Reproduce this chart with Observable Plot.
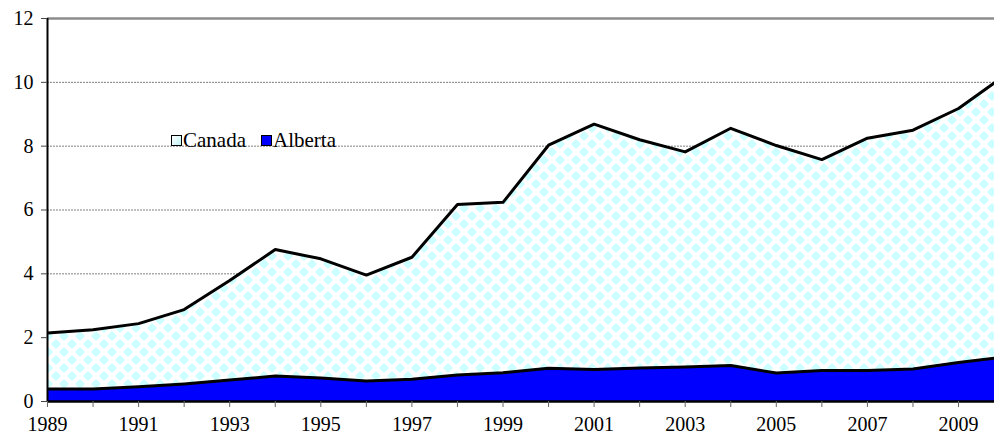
<!DOCTYPE html>
<html>
<head>
<meta charset="utf-8">
<script src="https://cdn.jsdelivr.net/npm/d3@7"></script>
<script src="https://cdn.jsdelivr.net/npm/@observablehq/plot@0.6"></script>
<style>
  html, body { margin: 0; padding: 0; background: #fff; }
  #wrap { position: relative; width: 994px; height: 435px; overflow: hidden; }
  #chart svg, #chart svg text { font-family: 'Liberation Serif', 'Times New Roman', 'DejaVu Serif', serif !important; }
  #legend { position: absolute; left: 171px; top: 127px; font-family: 'Liberation Serif', 'Times New Roman', 'DejaVu Serif', serif; font-size: 21px; line-height: 26px; color: #000; display: flex; align-items: center; white-space: nowrap; }
  .sw { display: inline-block; width: 9px; height: 9px; border: 1.5px solid #000; margin-right: 1px; vertical-align: middle; }
  .item { display: inline-flex; align-items: center; margin-right: 15px; }
</style>
</head>
<body>
<div id="wrap">
  <div id="chart"></div>
  <div id="legend">
    <span class="item"><span class="sw" style="background: linear-gradient(135deg, #ffffff, #bff3f7);"></span>Canada</span>
    <span class="item"><span class="sw" style="background:#0000ff;"></span>Alberta</span>
  </div>
</div>
<script>
const years = [1989,1990,1991,1992,1993,1994,1995,1996,1997,1998,1999,2000,2001,2002,2003,2004,2005,2006,2007,2008,2009,2010];
const canada = [2.15,2.25,2.44,2.88,3.79,4.76,4.47,3.96,4.52,6.17,6.24,8.03,8.69,8.20,7.82,8.56,8.02,7.58,8.25,8.50,9.18,10.2];
const alberta = [0.39,0.39,0.46,0.55,0.67,0.80,0.74,0.64,0.70,0.83,0.90,1.04,1.00,1.05,1.08,1.13,0.89,0.97,0.97,1.02,1.22,1.39];
const yTicks = [0,2,4,6,8,10,12];
const gridTicks = [2,4,6,8,10];
const xTickYears = d3.range(1989, 2010);

const data = years.map((y, i) => ({year: y, canada: canada[i], alberta: alberta[i]}));

const svg = Plot.plot({
  width: 994,
  height: 435,
  marginLeft: 47,
  marginRight: 0,
  marginTop: 18,
  marginBottom: 34,
  style: {fontFamily: "'Liberation Serif', 'Times New Roman', serif", fontSize: "20px", color: "#000", background: "#fff"},
  x: {domain: [1989, 2009.79], label: null},
  y: {domain: [0, 12], label: null},
  marks: [
    Plot.ruleY(gridTicks, {stroke: "#808080", strokeWidth: 1, strokeDasharray: "2,1"}),
    Plot.ruleY([12], {stroke: "#8c8c8c", strokeWidth: 2.5}),
    Plot.areaY(data, {x: "year", y: "canada", fill: "url(#diamonds)", clip: true}),
    Plot.lineY(data, {x: "year", y: "canada", stroke: "#000", strokeWidth: 3, clip: true}),
    Plot.areaY(data, {x: "year", y: "alberta", fill: "#0000ff", clip: true}),
    Plot.lineY(data, {x: "year", y: "alberta", stroke: "#000", strokeWidth: 3, clip: true}),
    Plot.ruleX([1989], {stroke: "#000", strokeWidth: 2}),
    Plot.ruleY([0], {stroke: "#000", strokeWidth: 2.5}),
    Plot.axisY({ticks: yTicks, tickSize: 6, tickPadding: 8, stroke: "#444", fill: "#000", label: null}),
    Plot.axisX({ticks: xTickYears, tickFormat: d => (d % 2 === 1 ? String(d) : ""), tickSize: 6, tickPadding: 9, stroke: "#666", fill: "#000", label: null})
  ]
});

const sel = d3.select(svg);
const defs = sel.insert("defs", ":first-child");
const pat = defs.append("pattern")
  .attr("id", "diamonds")
  .attr("patternUnits", "userSpaceOnUse")
  .attr("width", 16).attr("height", 16);
pat.append("rect").attr("width", 16).attr("height", 16).attr("fill", "#ffffff");
const h = 5;
const diamond = (cx, cy) => `${cx},${cy - h} ${cx + h},${cy} ${cx},${cy + h} ${cx - h},${cy}`;
[[8,8],[0,0],[16,0],[0,16],[16,16]].forEach(([cx, cy]) => {
  pat.append("polygon").attr("points", diamond(cx, cy)).attr("fill", "#ccffff");
});

document.getElementById("chart").appendChild(svg);
</script>
</body>
</html>
